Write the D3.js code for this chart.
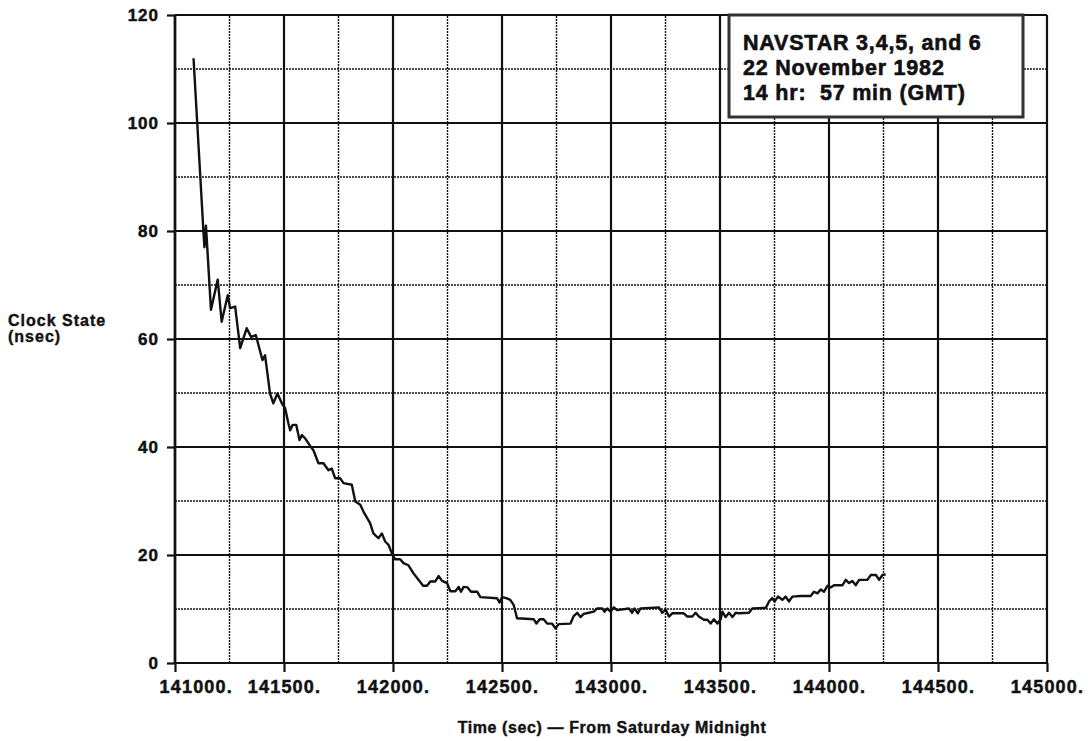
<!DOCTYPE html>
<html>
<head>
<meta charset="utf-8">
<script src="https://cdn.jsdelivr.net/npm/d3@7"></script>
<style>
  body { margin: 0; background: #fff; }
  svg { display: block; font-family: 'Liberation Sans', Arial, sans-serif; font-weight: bold; }
  text { white-space: pre; }
</style>
</head>
<body>
<svg id="chart" width="1088" height="741"></svg>
<script>
// time in seconds from Saturday midnight, clock state in nsec
const timeSec = [
  141085, 141130, 141135, 141142, 141165, 141196, 141214, 141242, 141253, 141276,
  141299, 141329, 141349, 141371, 141401, 141413, 141436, 141451, 141470, 141490,
  141505, 141520, 141528, 141540, 141556, 141571, 141582, 141597, 141620, 141635,
  141658, 141681, 141704, 141719, 141735, 141758, 141773, 141811, 141827, 141850,
  141865, 141895, 141910, 141933, 141949, 141964, 141979, 141995, 142010, 142033,
  142048, 142071, 142094, 142117, 142138, 142156, 142171, 142194, 142209, 142225,
  142248, 142263, 142286, 142301, 142312, 142324, 142342, 142358, 142386, 142401,
  142477, 142489, 142500, 142520, 142538, 142554, 142569, 142646, 142658, 142673,
  142691, 142707, 142730, 142745, 142760, 142814, 142829, 142845, 142860, 142875,
  142898, 142921, 142937, 142960, 142970, 142983, 142998, 143013, 143028, 143082,
  143097, 143108, 143123, 143135, 143220, 143235, 143250, 143266, 143281, 143334,
  143350, 143373, 143388, 143403, 143426, 143442, 143457, 143472, 143488, 143503,
  143511, 143526, 143541, 143557, 143572, 143587, 143633, 143648, 143710, 143725,
  143740, 143751, 143766, 143786, 143801, 143816, 143832, 143870, 143916, 143931,
  143947, 143962, 143977, 143993, 144008, 144023, 144062, 144077, 144092, 144107,
  144123, 144138, 144176, 144192, 144215, 144230, 144245, 144260
]
const clockNs = [
  112, 80.2, 77, 81, 65.4, 71, 63.2, 68.1, 65.7, 66,
  58.3, 62, 60.4, 60.7, 56.1, 57, 49.9, 48.1, 49.9, 48.1,
  47.2, 44.4, 43.1, 44.1, 44.1, 41.3, 42.2, 41.6, 40.2, 39.4,
  37, 37, 35.7, 36, 34.2, 34.2, 33.3, 33, 29.9, 29.3,
  28, 25.9, 24, 23.1, 24, 22.5, 21.9, 20.3, 19.2, 19.2,
  18.5, 18.1, 16.6, 15.4, 14.3, 14.3, 15.1, 15.1, 16.1, 15.2,
  14.8, 13.3, 13.3, 14.1, 13.2, 14.1, 14, 13.2, 13.2, 12.2,
  12, 11.2, 12.2, 12, 11.7, 10.7, 8.3, 8.1, 7.3, 8.1,
  8.1, 7.3, 7.3, 6.4, 7.2, 7.3, 8.7, 9.3, 8.5, 9.1,
  9.3, 9.5, 10.1, 10.1, 9.5, 10.1, 9.5, 10.3, 9.8, 10.1,
  9.3, 10.1, 9.2, 10.1, 10.3, 9.3, 9.9, 8.6, 9.2, 9.2,
  8.6, 8.6, 9.3, 8.6, 8, 8, 7.3, 8.1, 7.3, 8.1,
  9.5, 8.5, 9.3, 8.5, 9.3, 9.2, 9.3, 10.1, 10.2, 11.4,
  12, 11.4, 12.3, 11.7, 12.3, 11.4, 12.3, 12.4, 12.4, 13.2,
  12.9, 13.6, 13.2, 14.3, 14, 14.4, 14.4, 15.4, 14.8, 15.2,
  14.4, 15.4, 15.4, 16.3, 16.3, 15.4, 16.3, 16.4
]

const xTicks = [141000, 141500, 142000, 142500, 143000, 143500, 144000, 144500, 145000]
const yTicks = [0, 20, 40, 60, 80, 100, 120]
const xGrid = d3.range(141000, 145001, 250)
const yGrid = d3.range(0, 121, 10)
const legendLines = ['NAVSTAR 3,4,5, and 6', '22 November 1982', '14 hr:  57 min (GMT)']

const svg = d3.select('#chart')
const x = d3.scaleLinear().domain([141000, 145000]).range([175, 1047])
const y = d3.scaleLinear().domain([0, 120]).range([663, 15])
const ink = '#111'

// grid, minor lines dotted, major lines solid
const grid = svg.append('g')
grid.selectAll('.vg').data(xGrid).enter().append('line')
  .attr('x1', d => x(d)).attr('x2', d => x(d))
  .attr('y1', y(0)).attr('y2', y(120))
  .attr('stroke', ink)
  .attr('stroke-width', d => d % 500 === 0 ? 2.2 : 1.4)
  .attr('stroke-dasharray', d => d % 500 === 0 ? null : '2,1')
grid.selectAll('.hg').data(yGrid).enter().append('line')
  .attr('x1', x(141000)).attr('x2', x(145000))
  .attr('y1', d => y(d)).attr('y2', d => y(d))
  .attr('stroke', ink)
  .attr('stroke-width', d => d % 20 === 0 ? 2.2 : 1.4)
  .attr('stroke-dasharray', d => d % 20 === 0 ? null : '2,1')

// axes
const xAxis = d3.axisBottom(x).tickValues(xTicks).tickSize(9).tickPadding(8)
  .tickFormat(d => d + '.')
const gx = svg.append('g').attr('transform', `translate(0,${y(0)})`).call(xAxis)
gx.select('.domain').remove()
gx.selectAll('line').attr('stroke', ink).attr('stroke-width', 2.2)
gx.selectAll('text')
  .attr('fill', ink)
  .attr('stroke', ink).attr('stroke-width', 0.5)
  .style('font-size', '18px')
  .style('letter-spacing', '1.2px')
  .attr('font-family', null)
gx.selectAll('.tick').filter(d => d === 141000).select('text')
  .attr('text-anchor', 'start').attr('dx', -16)

const yAxis = d3.axisLeft(y).tickValues(yTicks).tickSize(8).tickPadding(8)
const gy = svg.append('g').attr('transform', `translate(${x(141000)},0)`).call(yAxis)
gy.select('.domain').remove()
gy.selectAll('line').attr('stroke', ink).attr('stroke-width', 2.2)
gy.selectAll('text')
  .attr('fill', ink)
  .attr('stroke', ink).attr('stroke-width', 0.5)
  .style('font-size', '17px')
  .style('letter-spacing', '1px')
  .attr('font-family', null)

// left frame edge a little heavier
svg.append('line').attr('x1', x(141000)).attr('x2', x(141000))
  .attr('y1', y(0)).attr('y2', y(120)).attr('stroke', ink).attr('stroke-width', 2.6)

// data line
const line = d3.line().x(d => x(d[0])).y(d => y(d[1]))
svg.append('path')
  .datum(d3.zip(timeSec, clockNs))
  .attr('d', line)
  .attr('fill', 'none')
  .attr('stroke', ink)
  .attr('stroke-width', 2.4)
  .attr('stroke-linejoin', 'round')

// legend box
const legend = svg.append('g')
legend.append('rect')
  .attr('x', 729).attr('y', 15).attr('width', 294).attr('height', 102)
  .attr('fill', '#fff').attr('stroke', '#333').attr('stroke-width', 3)
legend.selectAll('text').data(legendLines).enter().append('text')
  .attr('x', 743)
  .attr('y', (d, i) => 50 + i * 25)
  .attr('fill', ink)
  .attr('stroke', ink).attr('stroke-width', 0.6)
  .style('font-size', '21.5px')
  .style('letter-spacing', '0.8px')
  .text(d => d)

// axis titles
const titleStyle = sel => sel.attr('fill', ink).attr('stroke', ink).attr('stroke-width', 0.4)
svg.append('text').attr('x', 8).attr('y', 326)
  .call(titleStyle).style('font-size', '16px').style('letter-spacing', '1px')
  .text('Clock State')
svg.append('text').attr('x', 8).attr('y', 342)
  .call(titleStyle).style('font-size', '16px').style('letter-spacing', '1px')
  .text('(nsec)')
svg.append('text').attr('x', 612).attr('y', 733)
  .attr('text-anchor', 'middle')
  .call(titleStyle).style('font-size', '16px').style('letter-spacing', '0.6px')
  .text('Time (sec) — From Saturday Midnight')
</script>
</body>
</html>
